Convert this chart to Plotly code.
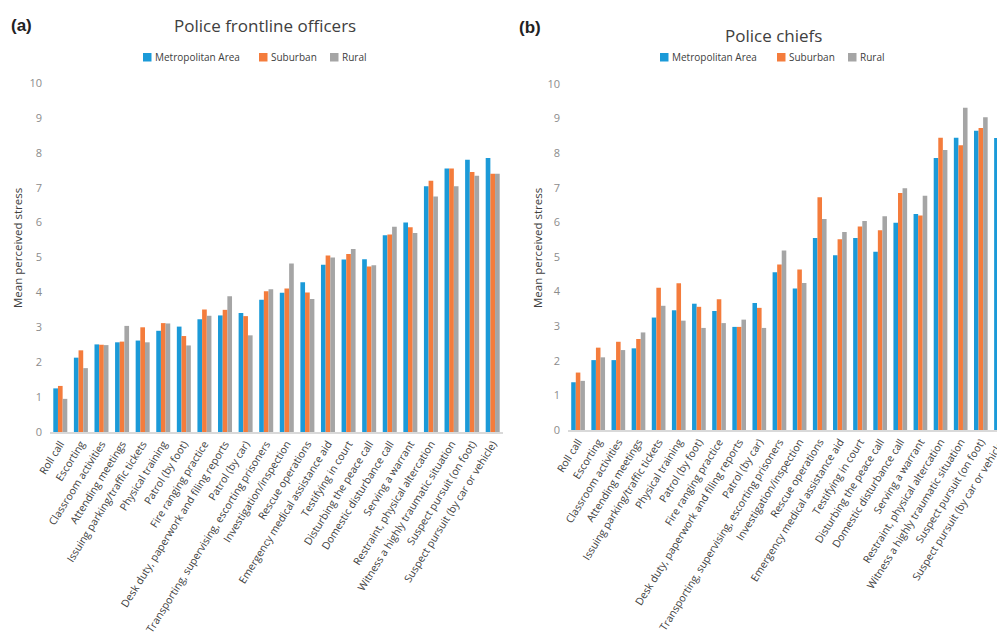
import plotly.graph_objects as go

categories = [
    "Roll call", "Escorting", "Classroom activities", "Attending meetings",
    "Issuing parking/traffic tickets", "Physical training", "Patrol (by foot)",
    "Fire ranging practice", "Desk duty, paperwork and filing reports", "Patrol (by car)",
    "Transporting, supervising, escorting prisoners", "Investigation/inspection",
    "Rescue operations", "Emergency medical assistance aid", "Testifying in court",
    "Disturbing the peace call", "Domestic disturbance call", "Serving a warrant",
    "Restraint, physical altercation", "Witness a highly traumatic situation",
    "Suspect pursuit (on foot)", "Suspect pursuit (by car or vehicle)",
]

# Panel (a): Police frontline officers
a_metro = [1.25, 2.13, 2.51, 2.57, 2.62, 2.90, 3.02, 3.23, 3.34, 3.41, 3.79, 3.99,
           4.29, 4.79, 4.94, 4.95, 5.64, 6.00, 7.04, 7.55, 7.80, 7.85]
a_suburban = [1.32, 2.34, 2.50, 2.59, 3.00, 3.12, 2.75, 3.51, 3.50, 3.32, 4.03, 4.11,
              4.00, 5.06, 5.10, 4.74, 5.66, 5.87, 7.20, 7.55, 7.45, 7.40]
a_rural = [0.95, 1.83, 2.49, 3.04, 2.57, 3.11, 2.48, 3.33, 3.89, 2.77, 4.09, 4.83,
           3.81, 5.00, 5.24, 4.78, 5.88, 5.70, 6.75, 7.04, 7.34, 7.40]

# Panel (b): Police chiefs (last category is cut off at the right edge in the reference)
b_metro = [1.38, 2.02, 2.02, 2.36, 3.25, 3.46, 3.65, 3.44, 2.98, 3.67, 4.56, 4.09,
           5.55, 5.05, 5.55, 5.15, 5.99, 6.24, 7.86, 8.45, 8.65, 8.44]
b_suburban = [1.66, 2.38, 2.55, 2.63, 4.11, 4.24, 3.56, 3.78, 2.98, 3.53, 4.78, 4.64,
              6.73, 5.51, 5.88, 5.77, 6.85, 6.20, 8.45, 8.23, 8.73, None]
b_rural = [1.42, 2.10, 2.31, 2.82, 3.59, 3.16, 2.95, 3.09, 3.19, 2.95, 5.19, 4.25,
           6.10, 5.72, 6.04, 6.18, 6.99, 6.77, 8.09, 9.31, 9.04, None]

series_names = ["Metropolitan Area", "Suburban", "Rural"]
colors = ["#1B9AD8", "#F47C3C", "#A5A5A5"]
FONT = "Open Sans, sans-serif"
TEXT = "#404040"

# page body has an 8px margin: figure drawn from (8, 8); keep page height within window
OFF = 8
W, H = 1005 - OFF, 641 - 2 * OFF


def px(X):
    return (X - OFF) / W


def py(Y):
    return 1 - (Y - OFF) / H


fig = go.Figure()
for name, vals, col in zip(series_names, [a_metro, a_suburban, a_rural], colors):
    fig.add_trace(go.Bar(x=categories, y=vals, name=name, marker_color=col,
                         marker_line_width=0, xaxis="x", yaxis="y"))
for name, vals, col in zip(series_names, [b_metro, b_suburban, b_rural], colors):
    fig.add_trace(go.Bar(x=categories, y=vals, name=name, marker_color=col,
                         marker_line_width=0, xaxis="x2", yaxis="y2"))

xa = dict(type="category", categoryorder="array", categoryarray=categories,
          showline=True, linecolor="#D9D9D9", linewidth=1.5, ticks="",
          showgrid=False, zeroline=False, tickangle=-58,
          tickfont=dict(family=FONT, size=10.5, color=TEXT), automargin=False)
ya = dict(range=[0, 10], tickvals=list(range(0, 11)), showgrid=False, zeroline=False,
          showline=False, ticks="", tickfont=dict(family=FONT, size=11, color="#8C8C8C"),
          automargin=False, ticklabelstandoff=7)

fig.update_layout(
    width=W, height=H,
    margin=dict(l=0, r=0, t=0, b=0),
    paper_bgcolor="white", plot_bgcolor="white",
    barmode="group", bargap=0.32, bargroupgap=0,
    font=dict(family=FONT, color=TEXT),
    showlegend=False,
    xaxis=dict(xa, domain=[px(50), px(503)], range=[-0.5, 21.5], anchor="y"),
    yaxis=dict(ya, domain=[py(432), py(83)], anchor="x"),
    # panel (b) continues past the right edge of the picture, as in the reference
    xaxis2=dict(xa, domain=[px(568), 1.0], range=[-0.5, 21.2], anchor="y2"),
    yaxis2=dict(ya, domain=[py(430), py(84)], anchor="x2"),
)

annotations = [
    dict(text="<b>(a)</b>", x=px(9), y=py(25.5), xanchor="left", yanchor="middle",
         font=dict(family="Liberation Sans, Arial, sans-serif", size=17, color="#222222")),
    dict(text="<b>(b)</b>", x=px(517), y=py(27.5), xanchor="left", yanchor="middle",
         font=dict(family="Liberation Sans, Arial, sans-serif", size=17, color="#222222")),
    dict(text="Police frontline officers", x=px(265), y=py(25), xanchor="center",
         yanchor="middle", font=dict(family=FONT, size=17, color=TEXT)),
    dict(text="Police chiefs", x=px(773), y=py(35), xanchor="center",
         yanchor="middle", font=dict(family=FONT, size=17, color=TEXT)),
    dict(text="Mean perceived stress", x=px(17), y=py(248), textangle=-90,
         xanchor="center", yanchor="middle", font=dict(family=FONT, size=11.5, color=TEXT)),
    dict(text="Mean perceived stress", x=px(537), y=py(248), textangle=-90,
         xanchor="center", yanchor="middle", font=dict(family=FONT, size=11.5, color=TEXT)),
]

# legend rows (square swatch + label), positioned like the reference
legend_a = [(143, 153), (259, 269), (330, 340)]
legend_b = [(660, 670), (777, 787), (848, 858)]
shapes = []
for row in (legend_a, legend_b):
    for (sq_x, tx_x), name, col in zip(row, series_names, colors):
        shapes.append(dict(type="rect", xref="paper", yref="paper",
                           x0=px(sq_x), x1=px(sq_x + 8.5), y0=py(61.5), y1=py(53),
                           fillcolor=col, line_width=0))
        annotations.append(dict(text=name, x=px(tx_x), y=py(57), xanchor="left",
                                yanchor="middle",
                                font=dict(family=FONT, size=10, color=TEXT)))

for a in annotations:
    a.update(xref="paper", yref="paper", showarrow=False)
fig.update_layout(annotations=annotations, shapes=shapes)

fig.write_html("out.html")
